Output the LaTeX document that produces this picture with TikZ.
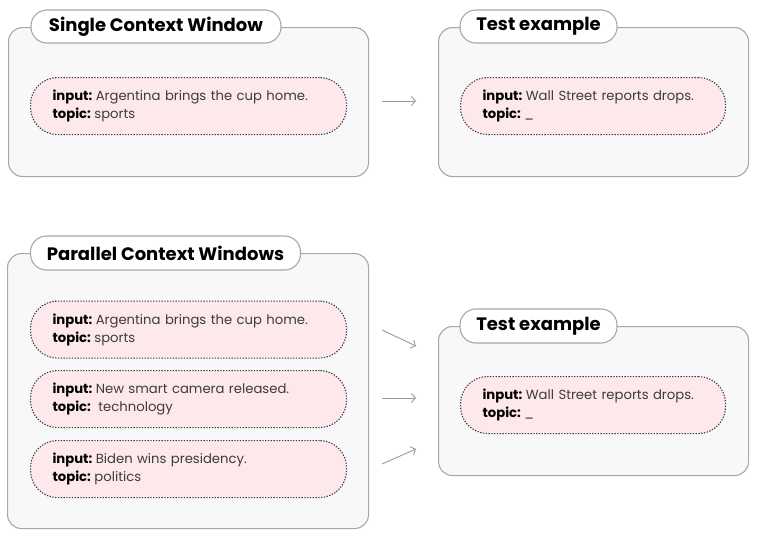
\documentclass[tikz,border=0pt]{standalone}
\usepackage{fontspec}
\setmainfont{Poppins}
\usetikzlibrary{arrows.meta}
\definecolor{boxfill}{HTML}{F8F8FA}
\definecolor{boxgray}{HTML}{A8A8A8}
\definecolor{pinkfill}{HTML}{FDE8EC}
\definecolor{dotgray}{HTML}{3A3A3A}
\definecolor{valgray}{HTML}{3C3C3C}
\definecolor{arrowgray}{HTML}{9A9A9A}
\tikzset{
  window/.style={draw=boxgray, fill=boxfill, rounded corners=14pt, line width=1.1pt, anchor=north west, inner sep=0pt},
  titlepill/.style={draw=boxgray, fill=white, rounded corners=16pt, line width=1.1pt, inner sep=0pt,
    font=\bfseries\fontsize{18}{20}\selectfont},
  example/.style={draw=dotgray, fill=pinkfill, dash pattern=on 1.3pt off 1.5pt, line width=1.1pt,
    rounded corners=27pt, anchor=north west, minimum width=316pt, minimum height=57pt,
    text width=272pt, inner xsep=22pt, inner ysep=0pt, align=left,
    font=\fontsize{13.2}{18}\selectfont, text=valgray},
  flow/.style={draw=arrowgray, line width=0.9pt, -{Straight Barb[length=4pt,width=9pt]}}
}
\newcommand{\lab}[1]{\textbf{\color{black}#1}\hspace{3.5pt}}
\begin{document}
\begin{tikzpicture}[x=1pt,y=-1pt]
\useasboundingbox (0,0) rectangle (760,544);
% Single context window
\node[window, minimum width=360pt, minimum height=149pt] (sw) at (8,27) {};
\node[titlepill, minimum width=250pt, minimum height=33pt] (swt) at (156,26.5) {Single Context Window};
\node[example] (se) at (30,77) {\lab{input:}Argentina brings the cup home.\\\lab{topic:}sports};
% Test example top
\node[window, minimum width=310pt, minimum height=149pt] (tw) at (438,27) {};
\node[titlepill, minimum width=157pt, minimum height=33pt] (twt) at (538.5,26.5) {Test example};
\node[example, minimum width=265pt, text width=221pt] (te) at (460,77) {\lab{input:}Wall Street reports drops.\\\lab{topic:}\_};
% Parallel context windows
\node[window, minimum width=361pt, minimum height=275pt] (pw) at (7,253) {};
\node[titlepill, minimum width=270pt, minimum height=34pt] (pwt) at (165.5,253) {Parallel Context Windows};
\node[example] (p1) at (30,300.5) {\lab{input:}Argentina brings the cup home.\\\lab{topic:}sports};
\node[example] (p2) at (30,370) {\lab{input:}New smart camera released.\\\lab{topic:}\hspace{4pt}technology};
\node[example] (p3) at (30,440) {\lab{input:}Biden wins presidency.\\\lab{topic:}politics};
% Test example bottom
\node[window, minimum width=310pt, minimum height=149pt] (bw) at (438,326) {};
\node[titlepill, minimum width=157pt, minimum height=34pt] (bwt) at (538.5,326) {Test example};
\node[example, minimum width=265pt, text width=221pt] (be) at (460,376) {\lab{input:}Wall Street reports drops.\\\lab{topic:}\_};
% arrows
\coordinate (a0s) at (382,101);
\coordinate (a0e) at (416,101);
\coordinate (a1s) at (382,330);
\coordinate (a1e) at (416,346);
\coordinate (a2s) at (382,398);
\coordinate (a2e) at (416,398);
\coordinate (a3s) at (382,464);
\coordinate (a3e) at (416,449);
\draw[flow] (a0s) -- (a0e);
\draw[flow] (a1s) -- (a1e);
\draw[flow] (a2s) -- (a2e);
\draw[flow] (a3s) -- (a3e);
\end{tikzpicture}
\end{document}
